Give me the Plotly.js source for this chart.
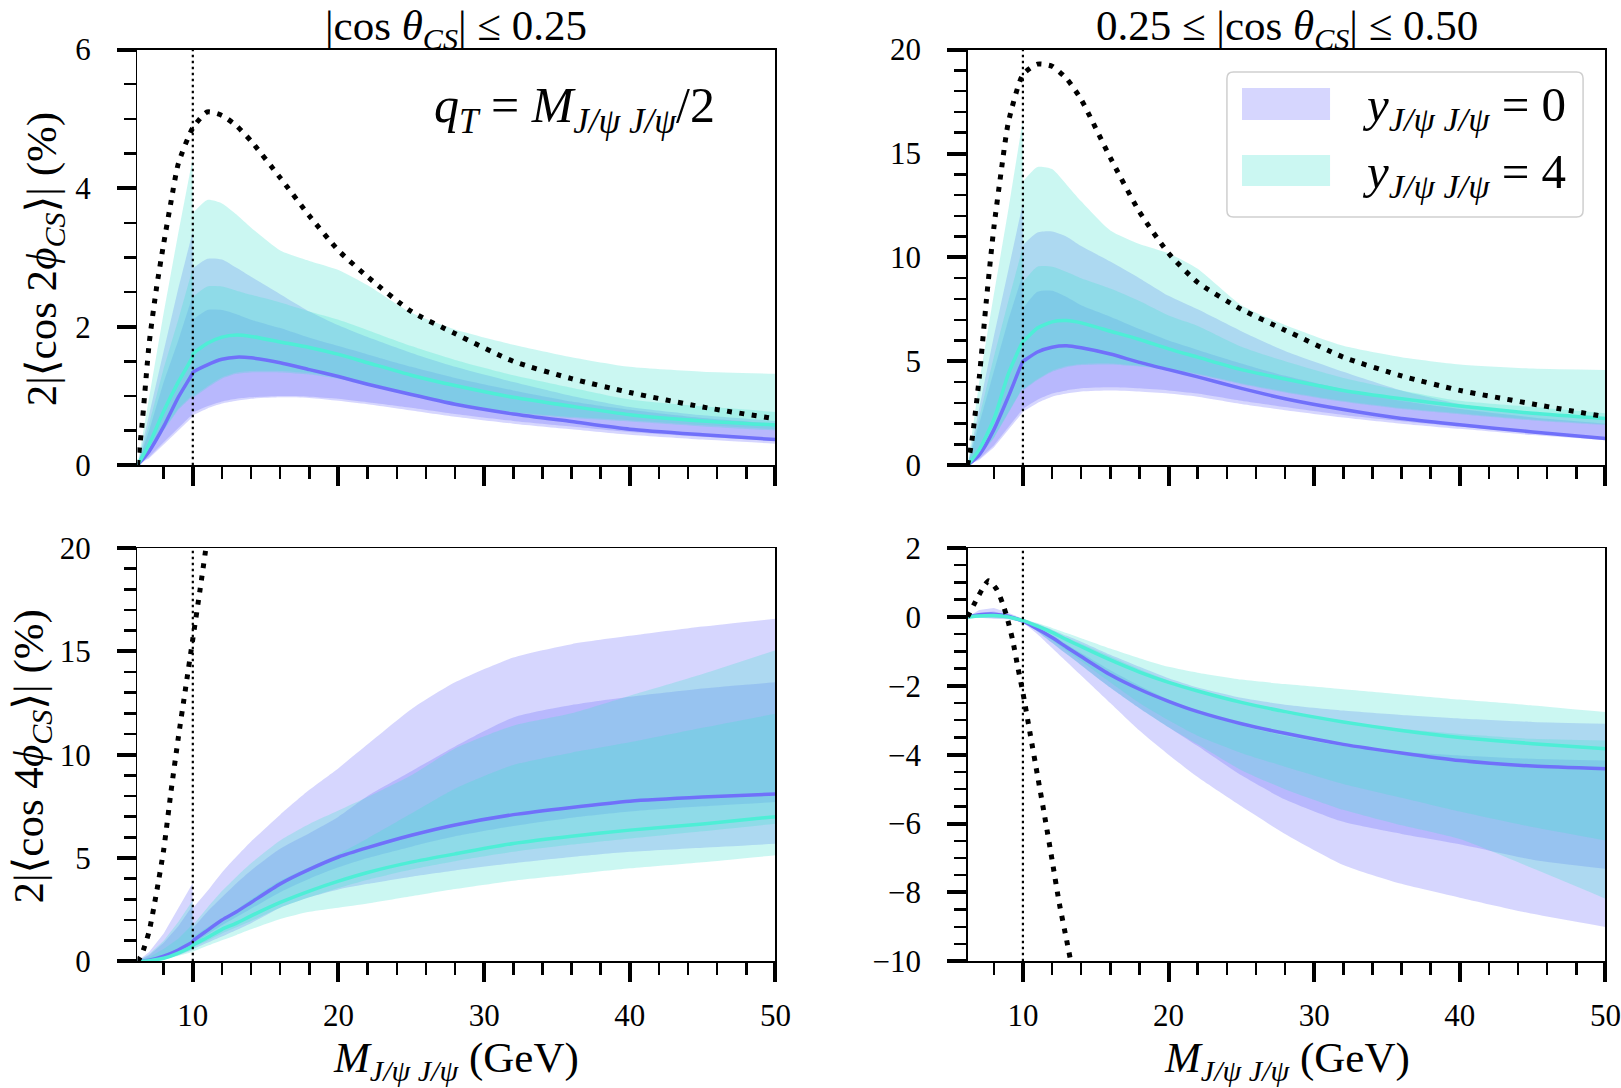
<!DOCTYPE html>
<html><head><meta charset="utf-8">
<script src="https://cdn.plot.ly/plotly-3.0.1.min.js"></script>
<style>html,body{margin:0;padding:0;background:#fff;}#chart{width:1621px;height:1088px;}</style>
</head><body><div id="chart"></div>
<script>
// shared M_{J/psi J/psi} grid (GeV); 9.99 / 10 pair captures the jump at the dotted line
const X = [6.2, 7, 8, 9, 9.99, 10, 11, 12, 13, 14, 16, 18, 20, 22, 25, 28, 32, 36, 40, 45, 50];

// ---- panel 1 : 2|<cos 2phi>|, |cos theta| <= 0.25
const p1_y0     = [0, 0.2, 0.56, 0.98, 1.33, 1.34, 1.45, 1.53, 1.56, 1.55, 1.48, 1.38, 1.28, 1.17, 1.02, 0.88, 0.74, 0.63, 0.52, 0.44, 0.37];
const p1_y4     = [0, 0.3, 0.78, 1.2, 1.57, 1.6, 1.76, 1.85, 1.88, 1.86, 1.78, 1.7, 1.6, 1.48, 1.3, 1.15, 0.98, 0.85, 0.73, 0.64, 0.58];
const p1_lavA_hi = [0, 0.75, 1.65, 2.55, 3.37, 2.84, 2.98, 2.97, 2.85, 2.72, 2.47, 2.22, 2.02, 1.85, 1.62, 1.42, 1.2, 1.0, 0.84, 0.72, 0.64];
const p1_lavA_lo = [0, 0.1, 0.3, 0.5, 0.7, 0.72, 0.82, 0.89, 0.93, 0.96, 0.98, 0.97, 0.93, 0.88, 0.79, 0.7, 0.6, 0.52, 0.44, 0.37, 0.31];
const p1_lavB_hi = [0, 0.5, 1.2, 1.8, 2.45, 2.1, 2.24, 2.24, 2.18, 2.1, 1.98, 1.84, 1.72, 1.6, 1.42, 1.26, 1.08, 0.92, 0.8, 0.68, 0.6];
const p1_lavB_lo = [0, 0.12, 0.33, 0.54, 0.74, 0.76, 0.85, 0.92, 0.96, 0.98, 1.0, 0.99, 0.96, 0.91, 0.83, 0.74, 0.64, 0.56, 0.48, 0.41, 0.35];
const p1_turA_hi = [0, 1.0, 2.2, 3.35, 4.43, 3.64, 3.83, 3.78, 3.62, 3.43, 3.1, 2.95, 2.82, 2.6, 2.2, 1.96, 1.74, 1.56, 1.42, 1.35, 1.32];
const p1_turA_lo = [0, 0.18, 0.5, 0.8, 1.0, 0.97, 1.12, 1.25, 1.32, 1.34, 1.34, 1.31, 1.25, 1.17, 1.02, 0.88, 0.75, 0.68, 0.63, 0.56, 0.5];
const p1_turB_hi = [0, 0.6, 1.4, 2.1, 2.84, 2.43, 2.58, 2.58, 2.52, 2.46, 2.35, 2.22, 2.1, 1.95, 1.72, 1.52, 1.3, 1.12, 0.95, 0.85, 0.77];
const p1_turB_lo = [0, 0.2, 0.52, 0.82, 1.02, 0.99, 1.14, 1.27, 1.34, 1.36, 1.36, 1.33, 1.27, 1.19, 1.04, 0.9, 0.77, 0.7, 0.65, 0.58, 0.52];
const p1_dot_x = [6.2, 6.5, 7, 7.5, 8, 8.5, 9, 10, 11, 12, 13, 14, 16, 18, 20, 22, 25, 28, 32, 36, 40, 45, 50];
const p1_dot_y = [0, 0.55, 1.75, 2.55, 3.2, 3.8, 4.35, 4.87, 5.1, 5.05, 4.9, 4.68, 4.15, 3.6, 3.1, 2.72, 2.22, 1.9, 1.5, 1.25, 1.05, 0.84, 0.67];

// ---- panel 2 : 2|<cos 2phi>|, 0.25 <= |cos theta| <= 0.50
const p2_y0     = [0, 0.5, 1.7, 3.3, 5.0, 5.0, 5.45, 5.68, 5.75, 5.65, 5.35, 4.95, 4.6, 4.25, 3.7, 3.2, 2.68, 2.25, 1.95, 1.6, 1.29];
const p2_y4     = [0, 0.75, 2.2, 4.4, 5.95, 5.95, 6.6, 6.9, 6.96, 6.85, 6.45, 6.05, 5.6, 5.2, 4.6, 4.15, 3.6, 3.2, 2.85, 2.5, 2.25];
const p2_lavA_hi = [0, 2.8, 6.2, 9.4, 12.6, 10.6, 11.2, 11.25, 11.0, 10.55, 9.8, 9.0, 8.15, 7.5, 6.45, 5.5, 4.5, 3.6, 2.95, 2.45, 2.2];
const p2_lavA_lo = [0, 0.25, 0.85, 1.7, 2.55, 2.57, 3.0, 3.3, 3.45, 3.55, 3.6, 3.55, 3.45, 3.3, 2.95, 2.65, 2.3, 2.0, 1.75, 1.45, 1.2];
const p2_lavB_hi = [0, 2.0, 4.6, 7.0, 9.2, 7.55, 8.35, 8.4, 8.1, 7.7, 7.15, 6.55, 6.0, 5.55, 4.9, 4.3, 3.65, 3.1, 2.7, 2.3, 2.0];
const p2_lavB_lo = [0, 0.3, 0.95, 1.85, 2.7, 2.72, 3.15, 3.45, 3.6, 3.7, 3.75, 3.7, 3.6, 3.45, 3.1, 2.8, 2.42, 2.12, 1.86, 1.56, 1.32];
const p2_turA_hi = [0, 4.0, 8.2, 12.3, 16.6, 13.65, 14.35, 14.25, 13.5, 12.7, 11.3, 10.65, 10.2, 9.45, 7.7, 6.75, 5.75, 5.2, 4.85, 4.65, 4.58];
const p2_turA_lo = [0, 0.4, 1.3, 2.5, 3.7, 3.6, 4.1, 4.5, 4.72, 4.82, 4.85, 4.75, 4.6, 4.35, 3.9, 3.5, 3.05, 2.7, 2.45, 2.15, 1.93];
const p2_turB_hi = [0, 2.3, 5.2, 7.9, 10.5, 8.8, 9.55, 9.55, 9.3, 9.0, 8.5, 7.9, 7.2, 6.7, 5.7, 5.0, 4.2, 3.6, 3.1, 2.8, 2.5];
const p2_turB_lo = [0, 0.45, 1.35, 2.55, 3.75, 3.65, 4.15, 4.55, 4.77, 4.87, 4.9, 4.8, 4.65, 4.4, 3.95, 3.55, 3.1, 2.75, 2.5, 2.2, 1.98];
const p2_dot_x = [6.2, 6.5, 7, 7.5, 8, 8.5, 9, 10, 11, 12, 13, 14, 16, 18, 20, 22, 25, 28, 32, 36, 40, 45, 50];
const p2_dot_y = [0, 1.2, 4.2, 8.0, 11.4, 14.1, 16.5, 18.8, 19.3, 19.2, 18.6, 17.6, 14.8, 12.2, 10.2, 8.8, 7.5, 6.5, 5.2, 4.3, 3.6, 2.95, 2.33];

// ---- panel 3 : 2|<cos 4phi>|, |cos theta| <= 0.25
const p3_y0     = [0, 0.05, 0.25, 0.55, 0.95, 0.98, 1.5, 2.0, 2.4, 2.85, 3.75, 4.45, 5.05, 5.5, 6.1, 6.6, 7.1, 7.45, 7.75, 7.95, 8.1];
const p3_y4     = [0, 0.03, 0.15, 0.4, 0.75, 0.78, 1.15, 1.55, 1.85, 2.2, 2.85, 3.4, 3.88, 4.3, 4.8, 5.2, 5.7, 6.05, 6.35, 6.65, 7.0];
const p3_lavA_hi = [0, 0.45, 1.35, 2.55, 3.78, 2.57, 3.4, 4.3, 5.07, 5.8, 7.1, 8.3, 9.35, 10.5, 12.2, 13.5, 14.7, 15.35, 15.75, 16.2, 16.58];
const p3_lavA_lo = [0, 0.02, 0.1, 0.3, 0.55, 0.6, 0.9, 1.2, 1.52, 1.85, 2.6, 3.1, 3.48, 3.75, 4.1, 4.4, 4.75, 5.05, 5.3, 5.5, 5.69];
const p3_lavB_hi = [0, 0.3, 0.9, 1.7, 2.7, 1.6, 2.4, 3.1, 3.78, 4.4, 5.45, 6.2, 7.0, 8.0, 9.2, 10.4, 11.8, 12.4, 12.8, 13.2, 13.5];
const p3_lavB_lo = [0, 0.03, 0.2, 0.45, 0.8, 0.82, 1.3, 1.75, 2.15, 2.55, 3.35, 4.0, 4.55, 5.0, 5.55, 6.05, 6.55, 6.95, 7.25, 7.5, 7.71];
const p3_turA_hi = [0, 0.35, 1.0, 1.9, 2.95, 1.75, 2.6, 3.4, 4.1, 4.75, 5.85, 6.65, 7.3, 7.95, 9.0, 10.3, 11.4, 12.0, 12.85, 13.9, 15.05];
const p3_turA_lo = [0, 0.01, 0.08, 0.25, 0.45, 0.47, 0.75, 1.02, 1.28, 1.55, 2.05, 2.4, 2.6, 2.8, 3.15, 3.5, 3.9, 4.2, 4.5, 4.8, 5.13];
const p3_turB_hi = [0, 0.2, 0.6, 1.1, 1.8, 1.2, 1.65, 2.05, 2.5, 3.0, 3.9, 4.55, 5.2, 5.95, 7.15, 8.35, 9.5, 10.1, 10.6, 11.3, 11.98];
const p3_turB_lo = [0, 0.02, 0.12, 0.35, 0.65, 0.68, 1.0, 1.35, 1.65, 1.95, 2.6, 3.1, 3.55, 3.95, 4.45, 4.85, 5.3, 5.65, 5.95, 6.3, 6.66];
const p3_dot_x = [6.2, 6.5, 7, 7.5, 8, 8.5, 9, 9.5, 10, 10.5, 11];
const p3_dot_y = [0, 0.35, 1.45, 3.3, 5.4, 8.2, 10.8, 13.2, 15.6, 18.0, 20.5];

// ---- panel 4 : 2|<cos 4phi>|, 0.25 <= |cos theta| <= 0.50
const p4_y0     = [0, 0.06, 0.08, 0.02, -0.12, -0.12, -0.35, -0.6, -0.88, -1.15, -1.68, -2.1, -2.45, -2.75, -3.1, -3.38, -3.7, -3.95, -4.17, -4.33, -4.41];
const p4_y4     = [0, 0.03, 0.04, 0.0, -0.1, -0.1, -0.27, -0.45, -0.66, -0.86, -1.25, -1.6, -1.9, -2.15, -2.48, -2.75, -3.05, -3.3, -3.5, -3.68, -3.83];
const p4_lavA_hi = [0, 0.2, 0.26, 0.12, -0.05, -0.05, -0.2, -0.37, -0.55, -0.72, -1.1, -1.45, -1.78, -2.05, -2.35, -2.55, -2.72, -2.85, -2.95, -3.05, -3.1];
const p4_lavA_lo = [0, -0.03, -0.05, -0.07, -0.15, -0.17, -0.5, -0.9, -1.3, -1.7, -2.5, -3.3, -4.0, -4.65, -5.5, -6.3, -7.2, -7.75, -8.15, -8.62, -9.0];
const p4_lavB_hi = [0, 0.12, 0.16, 0.06, -0.08, -0.08, -0.3, -0.55, -0.8, -1.05, -1.55, -2.0, -2.4, -2.75, -3.15, -3.45, -3.75, -3.92, -4.02, -4.12, -4.17];
const p4_lavB_lo = [0, 0.0, -0.02, -0.04, -0.14, -0.14, -0.42, -0.75, -1.08, -1.4, -2.05, -2.65, -3.2, -3.75, -4.6, -5.3, -5.95, -6.3, -6.6, -7.05, -7.31];
const p4_turA_hi = [0, 0.08, 0.1, 0.05, -0.05, -0.05, -0.18, -0.32, -0.47, -0.62, -0.92, -1.2, -1.45, -1.62, -1.82, -1.95, -2.1, -2.25, -2.4, -2.57, -2.76];
const p4_turA_lo = [0, -0.02, -0.03, -0.05, -0.14, -0.14, -0.42, -0.75, -1.08, -1.4, -2.05, -2.65, -3.2, -3.7, -4.45, -5.0, -5.6, -6.05, -6.45, -7.3, -8.18];
const p4_turB_hi = [0, 0.06, 0.07, 0.03, -0.07, -0.07, -0.22, -0.4, -0.6, -0.78, -1.15, -1.52, -1.85, -2.15, -2.5, -2.8, -3.05, -3.25, -3.4, -3.54, -3.59];
const p4_turB_lo = [0, 0.0, 0.0, -0.03, -0.12, -0.12, -0.38, -0.68, -0.98, -1.28, -1.9, -2.5, -3.0, -3.45, -3.95, -4.35, -4.85, -5.25, -5.65, -6.1, -6.49];
const p4_dot_x = [6.2, 6.75, 7.2, 7.65, 8.2, 8.6, 8.9, 9.3, 9.65, 10, 10.5, 11, 11.5, 12, 12.5, 13, 13.4];
const p4_dot_y = [0, 0.45, 0.8, 1.05, 0.8, 0.4, 0.0, -0.68, -1.46, -2.2, -3.4, -4.6, -5.8, -7.05, -8.32, -9.38, -10.25];

// text
const titleLeft  = '|cos <i>θ</i><sub><i>CS</i></sub>| ≤ 0.25';
const titleRight = '0.25 ≤ |cos <i>θ</i><sub><i>CS</i></sub>| ≤ 0.50';
const yTitleTop = '2|⟨cos 2<i>ϕ</i><sub><i>CS</i></sub>⟩| (%)';
const yTitleBot = '2|⟨cos 4<i>ϕ</i><sub><i>CS</i></sub>⟩| (%)';
const xTitle = '<i>M</i><sub><i>J/ψ J/ψ</i></sub> (GeV)';
const qtNote = '<i>q</i><sub><i>T</i></sub> = <i>M</i><sub><i>J/ψ J/ψ</i></sub>/2';
const legendLabels = ['<i>y</i><sub><i>J/ψ J/ψ</i></sub> = 0', '<i>y</i><sub><i>J/ψ J/ψ</i></sub> = 4'];

const FONT = '"Liberation Serif", "DejaVu Serif", serif';
const LAV_BAND = 'rgba(108,108,250,0.28)';
const TUR_BAND = 'rgba(64,224,208,0.27)';
const LAV_LINE = 'rgb(112,112,250)';
const TUR_LINE = 'rgb(78,238,214)';

const SPLIT = X.indexOf(10);          // bands are drawn in two pieces, left and right of the jump
const XL = X.slice(0, SPLIT), XR = X.slice(SPLIT);

function bandPiece(xa, ya, xs, lo, hi, color, shape) {
  const common = {type: 'scatter', mode: 'lines', xaxis: xa, yaxis: ya, hoverinfo: 'skip', showlegend: false};
  return [
    Object.assign({x: xs, y: lo, line: {width: 0, shape: shape, smoothing: 0.6}}, common),
    Object.assign({x: xs, y: hi, fill: 'tonexty', fillcolor: color, line: {width: 0, shape: shape, smoothing: 0.6}}, common)
  ];
}
function band(xa, ya, lo, hi, color) {
  return bandPiece(xa, ya, XL, lo.slice(0, SPLIT), hi.slice(0, SPLIT), color, 'linear')
    .concat(bandPiece(xa, ya, XR, lo.slice(SPLIT), hi.slice(SPLIT), color, 'spline'));
}
function curve(xa, ya, xs, ys, color, width, dash) {
  return {x: xs, y: ys, type: 'scatter', mode: 'lines',
    line: {color: color, width: width, dash: dash || 'solid', shape: 'spline', smoothing: 0.6},
    xaxis: xa, yaxis: ya, hoverinfo: 'skip', showlegend: false};
}
function panel(xa, ya, d) {
  return [].concat(
    band(xa, ya, d.la_lo, d.la_hi, LAV_BAND),
    band(xa, ya, d.lb_lo, d.lb_hi, LAV_BAND),
    band(xa, ya, d.ta_lo, d.ta_hi, TUR_BAND),
    band(xa, ya, d.tb_lo, d.tb_hi, TUR_BAND),
    [curve(xa, ya, X, d.y0, LAV_LINE, 3.5),
     curve(xa, ya, X, d.y4, TUR_LINE, 3.5),
     curve(xa, ya, d.dx, d.dy, '#000', 5, '5px,7.5px')]
  );
}
const traces = [].concat(
  panel('x', 'y', {la_lo: p1_lavA_lo, la_hi: p1_lavA_hi, lb_lo: p1_lavB_lo, lb_hi: p1_lavB_hi, ta_lo: p1_turA_lo, ta_hi: p1_turA_hi, tb_lo: p1_turB_lo, tb_hi: p1_turB_hi, y0: p1_y0, y4: p1_y4, dx: p1_dot_x, dy: p1_dot_y}),
  panel('x2', 'y2', {la_lo: p2_lavA_lo, la_hi: p2_lavA_hi, lb_lo: p2_lavB_lo, lb_hi: p2_lavB_hi, ta_lo: p2_turA_lo, ta_hi: p2_turA_hi, tb_lo: p2_turB_lo, tb_hi: p2_turB_hi, y0: p2_y0, y4: p2_y4, dx: p2_dot_x, dy: p2_dot_y}),
  panel('x3', 'y3', {la_lo: p3_lavA_lo, la_hi: p3_lavA_hi, lb_lo: p3_lavB_lo, lb_hi: p3_lavB_hi, ta_lo: p3_turA_lo, ta_hi: p3_turA_hi, tb_lo: p3_turB_lo, tb_hi: p3_turB_hi, y0: p3_y0, y4: p3_y4, dx: p3_dot_x, dy: p3_dot_y}),
  panel('x4', 'y4', {la_lo: p4_lavA_lo, la_hi: p4_lavA_hi, lb_lo: p4_lavB_lo, lb_hi: p4_lavB_hi, ta_lo: p4_turA_lo, ta_hi: p4_turA_hi, tb_lo: p4_turB_lo, tb_hi: p4_turB_hi, y0: p4_y0, y4: p4_y4, dx: p4_dot_x, dy: p4_dot_y})
);

const XD1 = [0.0848, 0.4784], XD2 = [0.5969, 0.9904];
const YDT = [0.5724, 0.9544], YDB = [0.1164, 0.4963];

const base = {showline: true, mirror: true, linecolor: '#000', linewidth: 1.4,
  ticks: 'outside', ticklen: 19, tickwidth: 4, tickcolor: '#000',
  showgrid: false, zeroline: false, fixedrange: true,
  tickfont: {family: FONT, size: 31, color: '#000'}};
function xax(dom, anchor, labels) {
  return Object.assign({}, base, {domain: dom, anchor: anchor, range: [6.2, 50],
    tickmode: 'linear', tick0: 0, dtick: 10, showticklabels: labels, ticklabelstandoff: 7,
    minor: {ticks: 'outside', ticklen: 12, tickwidth: 2.5, tickcolor: '#000', dtick: 2, tick0: 0}});
}
function yax(dom, anchor, range, dt, mdt) {
  return Object.assign({}, base, {domain: dom, anchor: anchor, range: range,
    tickmode: 'linear', tick0: 0, dtick: dt, ticklabelstandoff: 20,
    minor: {ticks: 'outside', ticklen: 12, tickwidth: 2.5, tickcolor: '#000', dtick: mdt, tick0: 0}});
}

const vline = (xr, yr) => ({type: 'line', xref: xr, yref: yr + ' domain', x0: 10, x1: 10, y0: 0, y1: 1,
  line: {color: '#000', width: 2.2, dash: '2.5px,3.5px'}, layer: 'above'});

// legend box geometry (paper units)
const LB = {x0: 0.7569, x1: 0.9766, y0: 0.8006, y1: 0.9338, rx: 0.0040, ry: 0.0060};
const legendPath = `M ${LB.x0 + LB.rx},${LB.y1} L ${LB.x1 - LB.rx},${LB.y1} Q ${LB.x1},${LB.y1} ${LB.x1},${LB.y1 - LB.ry} ` +
  `L ${LB.x1},${LB.y0 + LB.ry} Q ${LB.x1},${LB.y0} ${LB.x1 - LB.rx},${LB.y0} L ${LB.x0 + LB.rx},${LB.y0} ` +
  `Q ${LB.x0},${LB.y0} ${LB.x0},${LB.y0 + LB.ry} L ${LB.x0},${LB.y1 - LB.ry} Q ${LB.x0},${LB.y1} ${LB.x0 + LB.rx},${LB.y1} Z`;

const shapes = [
  vline('x', 'y'), vline('x2', 'y2'), vline('x3', 'y3'), vline('x4', 'y4'),
  {type: 'path', xref: 'paper', yref: 'paper', path: legendPath, fillcolor: 'rgba(255,255,255,0.85)',
   line: {color: '#cfcfcf', width: 1.5}, layer: 'above'},
  {type: 'rect', xref: 'paper', yref: 'paper', x0: 0.7662, x1: 0.8205, y0: 0.8897, y1: 0.9191,
   fillcolor: LAV_BAND, line: {width: 0}, layer: 'above'},
  {type: 'rect', xref: 'paper', yref: 'paper', x0: 0.7662, x1: 0.8205, y0: 0.8290, y1: 0.8575,
   fillcolor: TUR_BAND, line: {width: 0}, layer: 'above'}
];

const ann = (text, x, y, size, extra) => Object.assign({text: text, x: x, y: y, xref: 'paper', yref: 'paper',
  showarrow: false, xanchor: 'center', yanchor: 'middle', font: {family: FONT, size: size, color: '#000'}}, extra || {});

const annotations = [
  ann(titleLeft, 0.2816, 0.9735, 43),
  ann(titleRight, 0.7937, 0.9735, 43),
  ann(yTitleTop, 0.0280, 0.7620, 43, {textangle: -90}),
  ann(yTitleBot, 0.0200, 0.3050, 43, {textangle: -90}),
  ann(xTitle, 0.2816, 0.0250, 43),
  ann(xTitle, 0.7937, 0.0250, 43),
  ann(qtNote, 0.3547, 0.9000, 50),
  ann(legendLabels[0], 0.8390, 0.9010, 49, {xanchor: 'left'}),
  ann(legendLabels[1], 0.8390, 0.8400, 49, {xanchor: 'left'})
];

const layout = {
  width: 1621, height: 1088, autosize: false,
  margin: {l: 0, r: 0, t: 0, b: 0, pad: 0},
  paper_bgcolor: '#fff', plot_bgcolor: '#fff', showlegend: false,
  font: {family: FONT, color: '#000'},
  xaxis: xax(XD1, 'y', false), yaxis: yax(YDT, 'x', [0, 6], 2, 0.5),
  xaxis2: xax(XD2, 'y2', false), yaxis2: yax(YDT, 'x2', [0, 20], 5, 1),
  xaxis3: xax(XD1, 'y3', true), yaxis3: yax(YDB, 'x3', [0, 20], 5, 1),
  xaxis4: xax(XD2, 'y4', true), yaxis4: yax(YDB, 'x4', [-10, 2], 2, 0.5),
  shapes: shapes, annotations: annotations
};

Plotly.newPlot('chart', traces, layout, {staticPlot: true, displayModeBar: false});
</script></body></html>
